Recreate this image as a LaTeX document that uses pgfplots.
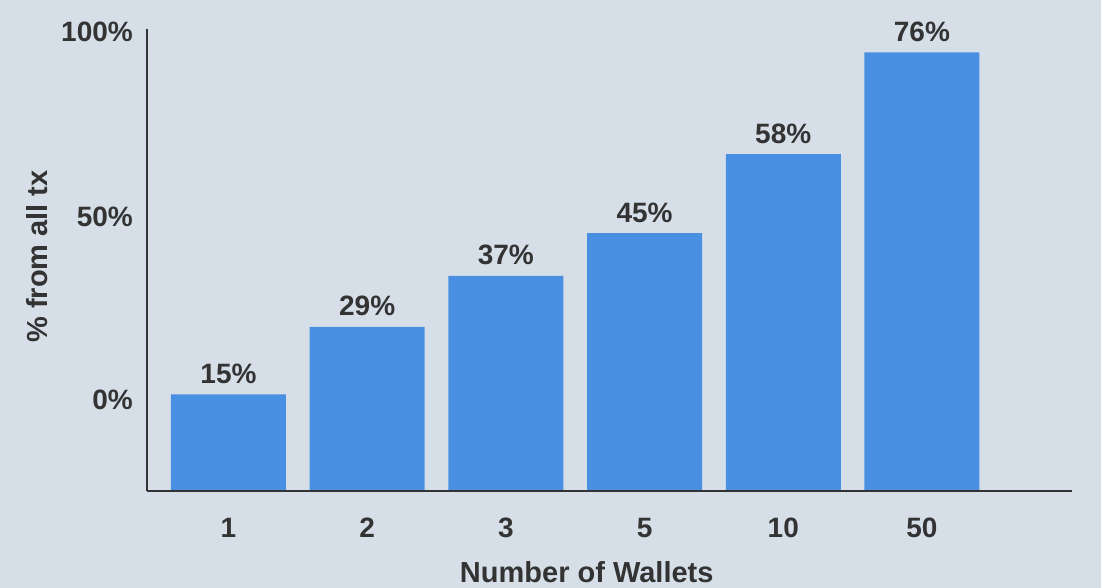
\documentclass[border=0pt]{standalone}
\usepackage{fontspec}
\setmainfont{Liberation Sans}
\usepackage{pgfplots}
\usepackage{pgfplotstable}
\pgfplotsset{compat=1.18}
\definecolor{bgc}{HTML}{D6DFE8}
\definecolor{barc}{HTML}{4A90E2}
\definecolor{txt}{HTML}{333333}
% pos: category index; h: bar height (in % of scale); lab: printed value
\pgfplotstableread{
pos h lab
0 16.7 15
1 28.4 29
2 37.2 37
3 44.6 45
4 58.3 58
5 75.9 76
}\wallets
\begin{document}
\begin{tikzpicture}
\fill[bgc] (0pt,0pt) rectangle (1101pt,588pt);
\begin{axis}[
  at={(147pt,97pt)}, anchor=south west,
  scale only axis, width=925pt, height=462pt,
  xmin=-0.5876, xmax=6.082,
  ymin=0, ymax=79.93,
  /pgf/number format/assume math mode=true,
  axis x line*=bottom, axis y line*=left,
  axis line style={-, line width=2pt, color=txt},
  axis on top,
  major tick length=0pt,
  xtick={0,1,2,3,4,5},
  xticklabels={\textbf{1},\textbf{2},\textbf{3},\textbf{5},\textbf{10},\textbf{50}},
  ytick={15.74,47.4,79.5},
  yticklabels={\textbf{0\%},\textbf{50\%},\textbf{100\%}},
  xticklabel style={font=\fontsize{28}{32}\selectfont\bfseries, text=txt, anchor=base, inner sep=0pt, yshift=-47pt},
  yticklabel style={font=\fontsize{28}{32}\selectfont\bfseries, text=txt, anchor=east, inner sep=0pt, xshift=-14pt},
  xlabel={Number of Wallets},
  ylabel={\% from all tx},
  xlabel style={font=\fontsize{29}{33}\selectfont\bfseries, text=txt, at={(axis description cs:0.4754,-0.1991)}, anchor=base, inner sep=0pt},
  ylabel style={font=\fontsize{29}{33}\selectfont\bfseries, text=txt, at={(axis description cs:-0.1081,0.5076)}, anchor=base, rotate=0, inner sep=0pt},
  ybar, bar width=115pt,
  nodes near coords={\pgfmathprintnumber{\pgfplotspointmeta}\%},
  point meta=explicit,
  every node near coord/.append style={font=\fontsize{28}{32}\selectfont\bfseries, text=txt, anchor=base, inner sep=0pt, yshift=11pt},
]
\addplot[fill=barc, draw=none] table[x=pos, y=h, meta=lab] {\wallets};
\end{axis}
\pgfresetboundingbox
\useasboundingbox (0pt,0pt) rectangle (1101pt,588pt);
\end{tikzpicture}
\end{document}
